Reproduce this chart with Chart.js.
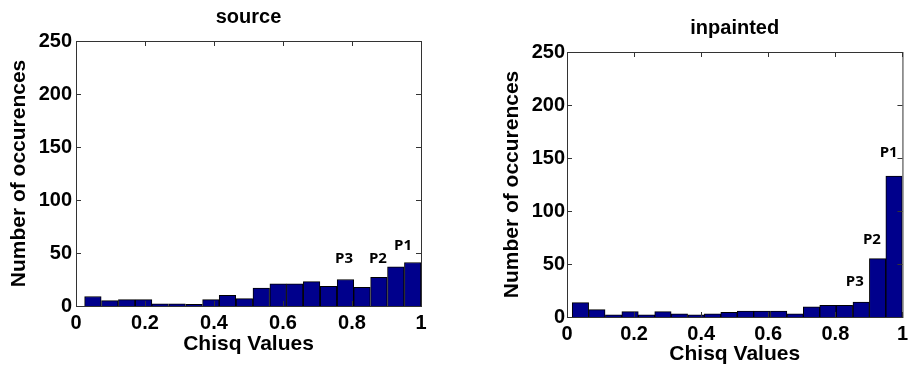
<!DOCTYPE html>
<html>
<head>
<meta charset="utf-8">
<script src="https://cdn.jsdelivr.net/npm/chart.js@4"></script>
<style>
  html, body { margin: 0; padding: 0; background: #fff; overflow: hidden; }
  canvas { position: absolute; top: 0; }
  #source { left: 0; }
  #inpainted { left: 493px; }
</style>
</head>
<body>
<canvas id="source" width="440" height="372"></canvas>
<canvas id="inpainted" width="420" height="372"></canvas>
<script>
// bin centres (Chisq value) and counts
const sourceBins = [0.049, 0.098, 0.147, 0.196, 0.244, 0.293, 0.342, 0.391, 0.439, 0.488,
                    0.537, 0.586, 0.634, 0.683, 0.732, 0.781, 0.829, 0.878, 0.927, 0.976];
const sourceCounts = [9, 5, 6, 6, 2, 2, 1.5, 6, 10, 7,
                      17, 21, 21, 23, 18.5, 25, 17.5, 27, 37, 41];

const inpaintedBins = [0.040, 0.089, 0.139, 0.188, 0.237, 0.286, 0.335, 0.385, 0.434, 0.483,
                       0.532, 0.581, 0.631, 0.680, 0.729, 0.778, 0.827, 0.877, 0.926, 0.975];
const inpaintedCounts = [13.5, 7, 2, 5, 2, 5, 3, 2, 3, 4.5,
                         5.5, 5.5, 5.5, 3, 9.5, 11, 11, 14, 55, 133];

// peak annotations, in data units
const peakLabels = ["P1", "P2", "P3"];
const sourcePeakX = [0.948, 0.875, 0.777];
const sourcePeakY = [57, 45, 45];
const inpaintedPeakX = [0.959, 0.909, 0.858];
const inpaintedPeakY = [155, 73, 33];

const xTickStep = 0.2;
const yTickStep = 50;
const yMax = 250;

const barColor = "#00008c";
const axisColor = "#333";
const bold20 = { family: "'Liberation Sans', Arial, sans-serif", size: 20, weight: "bold" };
const bold21 = { family: "'Liberation Sans', Arial, sans-serif", size: 21, weight: "bold" };

// matlab style box with ticks pointing inwards, plus title and P labels
const matlabBox = {
  id: "matlabBox",
  afterDraw(chart, args, opts) {
    const { ctx, chartArea: a, scales } = chart;
    const x = scales.x, y = scales.y;
    ctx.save();
    ctx.strokeStyle = axisColor;
    ctx.lineWidth = 1;
    ctx.strokeRect(a.left + 0.5, a.top + 0.5, a.right - a.left, a.bottom - a.top);
    ctx.beginPath();
    y.ticks.forEach(t => {
      const py = Math.round(y.getPixelForValue(t.value)) + 0.5;
      ctx.moveTo(a.left, py); ctx.lineTo(a.left + 5, py);
      ctx.moveTo(a.right, py); ctx.lineTo(a.right - 5, py);
    });
    x.ticks.forEach(t => {
      const px = Math.round(x.getPixelForValue(t.value)) + 0.5;
      ctx.moveTo(px, a.top); ctx.lineTo(px, a.top + 5);
      ctx.moveTo(px, a.bottom); ctx.lineTo(px, a.bottom - 5);
    });
    ctx.stroke();

    ctx.fillStyle = "#000";
    ctx.textAlign = "center";
    ctx.textBaseline = "middle";
    ctx.font = "bold 20px 'Liberation Sans', Arial, sans-serif";
    ctx.fillText(opts.title, (a.left + a.right) / 2, a.top - 24);

    ctx.font = "bold 15px 'Open Sans', sans-serif";
    peakLabels.forEach((lbl, i) => {
      ctx.fillText(lbl, x.getPixelForValue(opts.peakX[i]), y.getPixelForValue(opts.peakY[i]));
    });
    ctx.restore();
  }
};

function makeChart(id, bins, counts, setup) {
  return new Chart(document.getElementById(id), {
    type: "bar",
    data: {
      datasets: [{
        data: bins.map((b, i) => ({ x: b, y: counts[i] })),
        backgroundColor: barColor,
        borderColor: "#000",
        borderWidth: 1,
        barPercentage: 1,
        categoryPercentage: 1
      }]
    },
    options: {
      responsive: false,
      animation: false,
      layout: { padding: { top: setup.top, right: setup.right, left: 0, bottom: 0 } },
      plugins: {
        legend: { display: false },
        tooltip: { enabled: false },
        matlabBox: { title: setup.title, peakX: setup.peakX, peakY: setup.peakY }
      },
      scales: {
        x: {
          type: "linear",
          min: 0,
          max: 1,
          offset: false,
          grid: { display: false, drawTicks: false, offset: false },
          border: { display: false },
          ticks: { stepSize: xTickStep, color: "#000", font: bold20, padding: 5, maxRotation: 0,
                   callback: v => String(+v.toFixed(1)) },
          title: { display: true, text: "Chisq Values", color: "#000", font: bold21,
                   padding: { top: 0, bottom: setup.xTitlePad } },
          afterFit: s => { s.height = setup.xHeight; }
        },
        y: {
          min: 0,
          max: yMax,
          grid: { display: false, drawTicks: false },
          border: { display: false },
          ticks: { stepSize: yTickStep, color: "#000", font: bold20, padding: setup.yPad },
          title: { display: true, text: "Number of occurences", color: "#000", font: bold21,
                   padding: { top: 7, bottom: 0 } },
          afterFit: s => { s.width = setup.yWidth; }
        }
      }
    },
    plugins: [matlabBox]
  });
}

makeChart("source", sourceBins, sourceCounts, {
  title: "source", top: 41, right: 19, xHeight: 66, yWidth: 76, xTitlePad: 15, yPad: 4,
  peakX: sourcePeakX, peakY: sourcePeakY
});

makeChart("inpainted", inpaintedBins, inpaintedCounts, {
  title: "inpainted", top: 52, right: 7, xHeight: 55, yWidth: 74, xTitlePad: 5, yPad: 2,
  peakX: inpaintedPeakX, peakY: inpaintedPeakY
});
</script>
</body>
</html>
